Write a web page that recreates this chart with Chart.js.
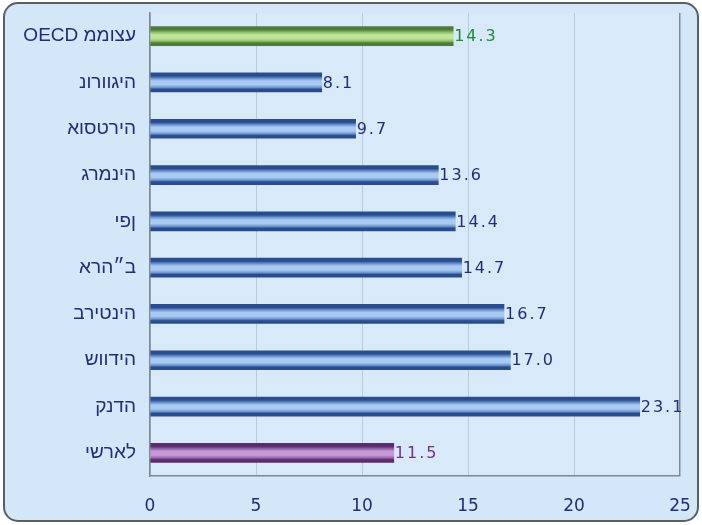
<!DOCTYPE html>
<html>
<head>
<meta charset="utf-8">
<script src="https://cdn.jsdelivr.net/npm/chart.js@4/dist/chart.umd.min.js"></script>
<style>
  html, body { margin: 0; padding: 0; background: #ffffff; }
  #wrap { width: 702px; height: 525px; }
</style>
</head>
<body>
<div id="wrap"><canvas id="myChart" width="702" height="525"></canvas></div>
<script>
// data, top to bottom
const countries = ['ממוצע OECD', 'נורווגיה', 'אוסטריה', 'גרמניה', 'יפן', 'ארה״ב', 'בריטניה', 'שוודיה', 'קנדה', 'ישראל'];
const values = [14.3, 8.1, 9.7, 13.6, 14.4, 14.7, 16.7, 17.0, 23.1, 11.5];
const xTicks = [0, 5, 10, 15, 20, 25];

// bar shading: [edge, mid, light]
const blueShade = ['#2b4c8c', '#6f98d2', '#a9caf2'];
const greenShade = ['#4f7a3c', '#8fbf6a', '#bfe49a'];
const purpleShade = ['#5c2d6c', '#9a6aae', '#c79ad6'];
const labelNavy = '#232c78';

function shadeFor(i) {
    if (i === 0) return greenShade;
    if (i === countries.length - 1) return purpleShade;
    return blueShade;
}
function textFor(i) {
    if (i === 0) return '#1d8a3c';
    if (i === countries.length - 1) return '#7a2a8e';
    return labelNavy;
}
// the source picture shows words right-to-left but letters left-to-right
function asShown(label) {
    return '\u202D' + label.split(' ').reverse().join(' ') + '\u202C';
}

const frame = {
    id: 'frame',
    beforeDraw(chart) {
        const c = chart.ctx;
        c.save();
        c.fillStyle = '#ffffff';
        c.fillRect(0, 0, chart.width, chart.height);
        c.beginPath();
        c.roundRect(4, 3, 694, 518, 14);
        c.fillStyle = '#d4e7f8';
        c.fill();
        c.lineWidth = 2;
        c.strokeStyle = '#5a5f66';
        c.stroke();
        const a = chart.chartArea;
        c.fillStyle = '#d8eaf9';
        c.fillRect(a.left, a.top, a.right - a.left, a.bottom - a.top);
        c.restore();
    },
    beforeDatasetsDraw(chart) {
        const c = chart.ctx;
        chart.getDatasetMeta(0).data.forEach((bar, i) => {
            const h = bar.height;
            const s = shadeFor(i);
            const g = c.createLinearGradient(0, bar.y - h / 2, 0, bar.y + h / 2);
            g.addColorStop(0, s[0]);
            g.addColorStop(0.16, s[0]);
            g.addColorStop(0.3, s[1]);
            g.addColorStop(0.42, s[2]);
            g.addColorStop(0.62, s[2]);
            g.addColorStop(0.76, s[1]);
            g.addColorStop(0.86, s[0]);
            g.addColorStop(1, s[0]);
            bar.options.backgroundColor = g;
        });
    },
    afterDatasetsDraw(chart) {
        const c = chart.ctx;
        const a = chart.chartArea;
        c.save();
        c.textBaseline = 'middle';
        c.textAlign = 'left';
        chart.getDatasetMeta(0).data.forEach((bar, i) => {
            const txt = values[i].toFixed(1);
            let size = 16;
            c.letterSpacing = '2px';
            c.font = size + 'px "DejaVu Sans"';
            if (bar.x + 2 + c.measureText(txt).width > a.right + 8) {
                size = 13;
                c.letterSpacing = '0px';
                c.font = size + 'px "DejaVu Sans"';
            }
            c.fillStyle = textFor(i);
            c.fillText(txt, bar.x + 1, bar.y + 1);
        });
        c.restore();
    }
};

const ctx = document.getElementById('myChart').getContext('2d');
const chart = new Chart(ctx, {
    type: 'bar',
    data: {
        labels: countries,
        datasets: [{
            data: values,
            // scriptable so each bar keeps its own options object
            backgroundColor: (c) => shadeFor(c.dataIndex)[1],
            barThickness: 19,
            borderWidth: 0
        }]
    },
    options: {
        indexAxis: 'y',
        responsive: false,
        animation: false,
        layout: { padding: { left: 8, right: 22, top: 13, bottom: 9 } },
        plugins: {
            legend: { display: false },
            tooltip: { enabled: false }
        },
        scales: {
            x: {
                min: 0,
                max: 25,
                afterBuildTicks: (s) => { s.ticks = xTicks.map(v => ({ value: v })); },
                afterFit: (s) => {
                    s.height = 40;
                    s.paddingLeft = 0;
                    s.paddingRight = 0;
                },
                grid: {
                    color: (c) => c.tick.value === 0 || c.tick.value === 25 ? '#7d8a96' : '#b9cadb',
                    lineWidth: (c) => c.tick.value === 0 || c.tick.value === 25 ? 1.5 : 1,
                    drawTicks: false
                },
                border: { color: '#7d8a96', width: 1.5 },
                ticks: {
                    color: labelNavy,
                    padding: 20,
                    font: { family: 'DejaVu Sans', size: 17 }
                }
            },
            y: {
                afterFit: (s) => {
                    s.width = 142;
                    s.paddingTop = 0;
                    s.paddingBottom = 0;
                },
                grid: { display: false, drawTicks: false },
                border: { color: '#7d8a96', width: 1.5 },
                ticks: {
                    color: labelNavy,
                    padding: 14,
                    font: { family: 'Liberation Sans', size: 19 },
                    callback: function (value) {
                        return asShown(this.getLabelForValue(value));
                    }
                }
            }
        }
    },
    plugins: [frame]
});
</script>
</body>
</html>
